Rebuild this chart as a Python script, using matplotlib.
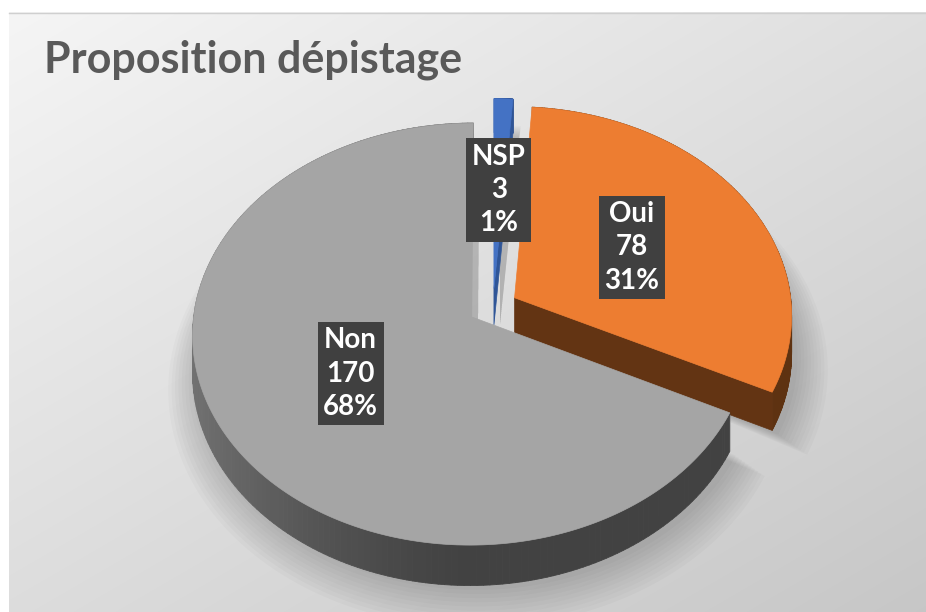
import numpy as np
import matplotlib.pyplot as plt
from matplotlib.collections import PolyCollection
from matplotlib.patches import Polygon

# data (clockwise from 12 o'clock, as in the original Excel chart)
labels = ["NSP", "Oui", "Non"]
counts = [3, 78, 170]
top_colors = ["#4472c4", "#ed7d31", "#a5a5a5"]
cut_colors = ["#2f5597", "#633413", "#8c8c8c"]
title = "Proposition dépistage"

W, H = 926, 612
cx, cy = 493, 307          # pie centre (pixels)
A, B, K = 277, 208, 0.081  # half width, half height, perspective
T = 37                     # thickness
explode = 0.09
N = 200


def proj(x, y, z=0.0):
    d = 1 + K * y
    return cx + A * x / d, cy + (-B * y + z) / d


def wall_color(i, t):
    if labels[i] == "Non":
        c = -np.cos(t)
        g = 66 + 48 * max(0.0, c) ** 1.4
        return (g / 255, g / 255, g / 255)
    if labels[i] == "Oui":
        return "#5e3211"
    return "#2c4f8f"


fig = plt.figure(figsize=(W / 100, H / 100), dpi=100)
ax = fig.add_axes([0, 0, 1, 1])
ax.set_xlim(0, W)
ax.set_ylim(H, 0)
ax.axis("off")

# chart area background (light grey gradient)
yy, xx = np.mgrid[0:H - 12, 0:W - 9]
g = 245 - 22 * xx / W - 25 * yy / H
bg = np.dstack([g, g, g]) / 255
ax.imshow(bg, extent=(9, W, H, 12), zorder=0, aspect="auto")
ax.plot([9, W], [12.5, 12.5], color="#cfcfcf", lw=1, zorder=1)

total = sum(counts)
spans = [360 * c / total for c in counts]
starts = 90 - np.concatenate([[0], np.cumsum(spans)[:-1]])

slices = []
for i in range(len(counts)):
    a_hi = starts[i]
    a_lo = starts[i] - spans[i]
    bis = np.radians((a_hi + a_lo) / 2)
    ox, oy = explode * np.cos(bis), explode * np.sin(bis)
    slices.append((i, np.radians(a_hi), np.radians(a_lo), bis, ox, oy))

# soft shadow under the pie
for s in range(10):
    for i, a_hi, a_lo, bis, ox, oy in slices:
        ts = np.linspace(a_hi, a_lo, N)
        f = 1 + 0.012 * s
        pts = [proj(ox, oy, T)] + [proj(ox + f * np.cos(t), oy + f * np.sin(t), T + 4 + s)
                                   for t in ts]
        pts = [(px + 6, py) for px, py in pts]
        ax.add_patch(Polygon(pts, closed=True, fc="black", ec="none", alpha=0.018, zorder=2))

# draw back to front
z = 3
for i, a_hi, a_lo, bis, ox, oy in sorted(slices, key=lambda s: -np.sin(s[3])):
    ts = np.linspace(a_hi, a_lo, N)
    # outer wall
    quads, cols = [], []
    for t0, t1 in zip(ts[:-1], ts[1:]):
        p0 = proj(ox + np.cos(t0), oy + np.sin(t0))
        p1 = proj(ox + np.cos(t1), oy + np.sin(t1))
        q1 = proj(ox + np.cos(t1), oy + np.sin(t1), T)
        q0 = proj(ox + np.cos(t0), oy + np.sin(t0), T)
        quads.append([p0, p1, q1, q0])
        cols.append(wall_color(i, (t0 + t1) / 2))
    ax.add_collection(PolyCollection(quads, facecolors=cols, edgecolors=cols,
                                     linewidths=0.6, zorder=z))
    # cut faces turned towards the viewer
    for a, sign in ((a_lo, -1), (a_hi, 1)):
        normal = a + sign * np.pi / 2
        if np.sin(normal) < -0.05:
            face = [proj(ox, oy), proj(ox + np.cos(a), oy + np.sin(a)),
                    proj(ox + np.cos(a), oy + np.sin(a), T), proj(ox, oy, T)]
            ax.add_patch(Polygon(face, closed=True, fc=cut_colors[i], ec=cut_colors[i],
                                 lw=0.5, zorder=z))
    # top face
    top = [proj(ox, oy)] + [proj(ox + np.cos(t), oy + np.sin(t)) for t in ts]
    ax.add_patch(Polygon(top, closed=True, fc=top_colors[i], ec=top_colors[i],
                         lw=0.5, zorder=z + 0.5))
    z += 1

# data labels
for i, a_hi, a_lo, bis, ox, oy in slices:
    lx, ly = proj(ox + 0.5 * np.cos(bis), oy + 0.5 * np.sin(bis))
    txt = f"{labels[i]}\n{counts[i]}\n{round(100 * counts[i] / total)}%"
    ax.text(lx, ly, txt, ha="center", va="center", color="white", fontsize=20,
            fontweight="bold", family="Lato", linespacing=1.35, zorder=20,
            bbox=dict(boxstyle="square,pad=0.2", fc="#404040", ec="none"))

ax.text(44, 72, title, ha="left", va="baseline", color="#595959",
        fontsize=31, fontweight="bold", family="Lato", zorder=20)

fig.savefig("out.png", dpi=100)
